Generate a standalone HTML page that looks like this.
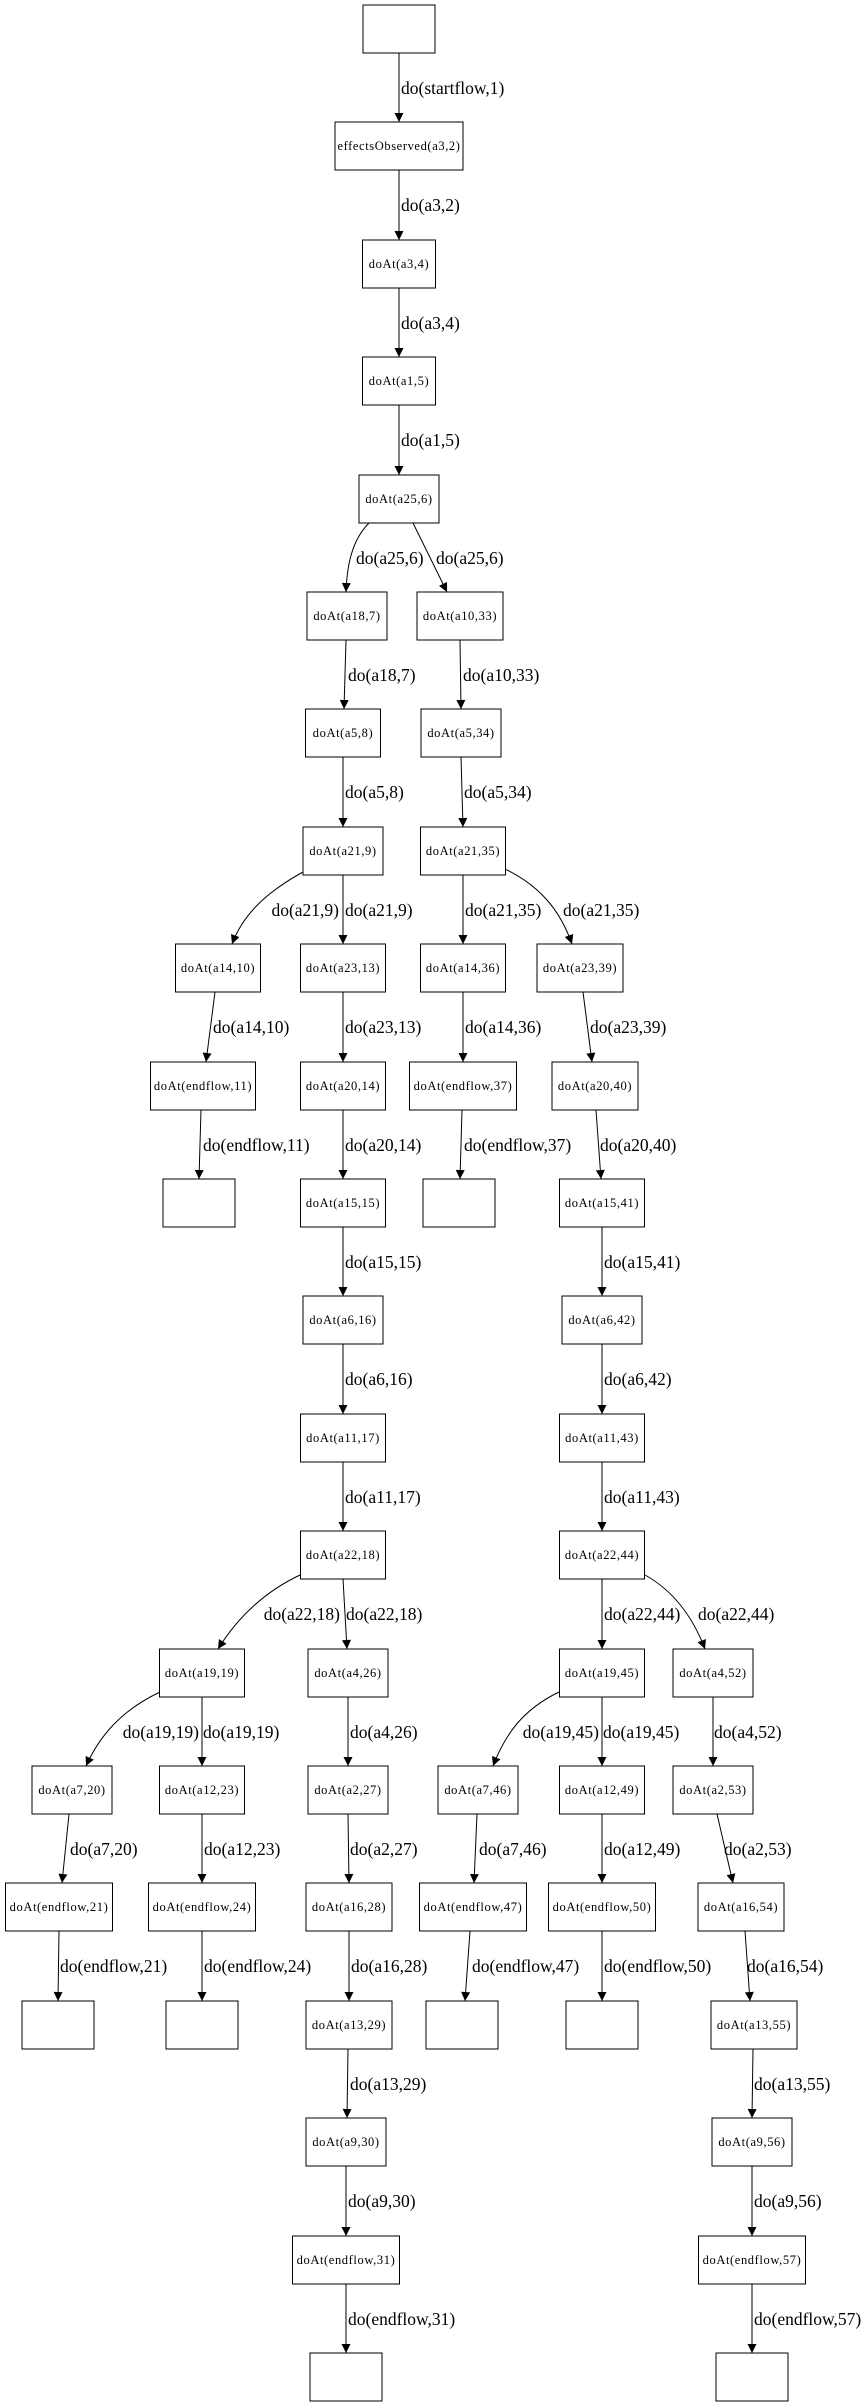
<!DOCTYPE html>
<html><head><meta charset="utf-8"><style>
html,body{margin:0;padding:0;background:#fff;}
svg{display:block}
.n{fill:#fff;stroke:#000;stroke-width:1}
.t{font-family:"Liberation Serif",serif;font-size:12.5px;letter-spacing:0.6px;text-anchor:middle}
.l{font-family:"Liberation Serif",serif;font-size:17.5px}
.e{fill:none;stroke:#000;stroke-width:1;marker-end:url(#a)}
</style></head><body>
<svg width="862" height="2405" viewBox="0 0 862 2405" xmlns="http://www.w3.org/2000/svg">
<defs><marker id="a" markerUnits="userSpaceOnUse" viewBox="0 0 10 10" refX="10" refY="5" markerWidth="12" markerHeight="9" orient="auto"><path d="M0,0 L10,5 L0,10 z" fill="#000"/></marker></defs>

<rect class="n" x="363" y="5" width="72" height="48"/>
<rect class="n" x="335" y="122" width="128" height="48"/><text class="t" x="399" y="150">effectsObserved(a3,2)</text>
<rect class="n" x="362.5" y="240" width="73" height="48"/><text class="t" x="399" y="268">doAt(a3,4)</text>
<rect class="n" x="362.5" y="357" width="73" height="48"/><text class="t" x="399" y="385">doAt(a1,5)</text>
<rect class="n" x="359" y="475" width="80" height="48"/><text class="t" x="399" y="503">doAt(a25,6)</text>
<rect class="n" x="307" y="592" width="80" height="48"/><text class="t" x="347" y="620">doAt(a18,7)</text>
<rect class="n" x="417" y="592" width="86" height="48"/><text class="t" x="460" y="620">doAt(a10,33)</text>
<rect class="n" x="305.5" y="709" width="75" height="48"/><text class="t" x="343" y="737">doAt(a5,8)</text>
<rect class="n" x="421" y="709" width="80" height="48"/><text class="t" x="461" y="737">doAt(a5,34)</text>
<rect class="n" x="303" y="827" width="80" height="48"/><text class="t" x="343" y="855">doAt(a21,9)</text>
<rect class="n" x="420.5" y="827" width="85" height="48"/><text class="t" x="463" y="855">doAt(a21,35)</text>
<rect class="n" x="175.5" y="944" width="85" height="48"/><text class="t" x="218" y="972">doAt(a14,10)</text>
<rect class="n" x="300.5" y="944" width="85" height="48"/><text class="t" x="343" y="972">doAt(a23,13)</text>
<rect class="n" x="420.5" y="944" width="85" height="48"/><text class="t" x="463" y="972">doAt(a14,36)</text>
<rect class="n" x="537" y="944" width="86" height="48"/><text class="t" x="580" y="972">doAt(a23,39)</text>
<rect class="n" x="150.5" y="1062" width="105" height="48"/><text class="t" x="203" y="1090">doAt(endflow,11)</text>
<rect class="n" x="300.5" y="1062" width="85" height="48"/><text class="t" x="343" y="1090">doAt(a20,14)</text>
<rect class="n" x="409.5" y="1062" width="107" height="48"/><text class="t" x="463" y="1090">doAt(endflow,37)</text>
<rect class="n" x="552" y="1062" width="86" height="48"/><text class="t" x="595" y="1090">doAt(a20,40)</text>
<rect class="n" x="163" y="1179" width="72" height="48"/>
<rect class="n" x="300.5" y="1179" width="85" height="48"/><text class="t" x="343" y="1207">doAt(a15,15)</text>
<rect class="n" x="423" y="1179" width="72" height="48"/>
<rect class="n" x="559.5" y="1179" width="85" height="48"/><text class="t" x="602" y="1207">doAt(a15,41)</text>
<rect class="n" x="303" y="1296" width="80" height="48"/><text class="t" x="343" y="1324">doAt(a6,16)</text>
<rect class="n" x="562" y="1296" width="80" height="48"/><text class="t" x="602" y="1324">doAt(a6,42)</text>
<rect class="n" x="300.5" y="1414" width="85" height="48"/><text class="t" x="343" y="1442">doAt(a11,17)</text>
<rect class="n" x="559.5" y="1414" width="85" height="48"/><text class="t" x="602" y="1442">doAt(a11,43)</text>
<rect class="n" x="300.5" y="1531" width="85" height="48"/><text class="t" x="343" y="1559">doAt(a22,18)</text>
<rect class="n" x="559.5" y="1531" width="85" height="48"/><text class="t" x="602" y="1559">doAt(a22,44)</text>
<rect class="n" x="159.5" y="1649" width="85" height="48"/><text class="t" x="202" y="1677">doAt(a19,19)</text>
<rect class="n" x="308" y="1649" width="80" height="48"/><text class="t" x="348" y="1677">doAt(a4,26)</text>
<rect class="n" x="559.5" y="1649" width="85" height="48"/><text class="t" x="602" y="1677">doAt(a19,45)</text>
<rect class="n" x="673" y="1649" width="80" height="48"/><text class="t" x="713" y="1677">doAt(a4,52)</text>
<rect class="n" x="32" y="1766" width="80" height="48"/><text class="t" x="72" y="1794">doAt(a7,20)</text>
<rect class="n" x="159.5" y="1766" width="85" height="48"/><text class="t" x="202" y="1794">doAt(a12,23)</text>
<rect class="n" x="308" y="1766" width="80" height="48"/><text class="t" x="348" y="1794">doAt(a2,27)</text>
<rect class="n" x="438" y="1766" width="80" height="48"/><text class="t" x="478" y="1794">doAt(a7,46)</text>
<rect class="n" x="559.5" y="1766" width="85" height="48"/><text class="t" x="602" y="1794">doAt(a12,49)</text>
<rect class="n" x="673" y="1766" width="80" height="48"/><text class="t" x="713" y="1794">doAt(a2,53)</text>
<rect class="n" x="5.5" y="1883" width="107" height="48"/><text class="t" x="59" y="1911">doAt(endflow,21)</text>
<rect class="n" x="148.5" y="1883" width="107" height="48"/><text class="t" x="202" y="1911">doAt(endflow,24)</text>
<rect class="n" x="306" y="1883" width="86" height="48"/><text class="t" x="349" y="1911">doAt(a16,28)</text>
<rect class="n" x="419.5" y="1883" width="107" height="48"/><text class="t" x="473" y="1911">doAt(endflow,47)</text>
<rect class="n" x="548.5" y="1883" width="107" height="48"/><text class="t" x="602" y="1911">doAt(endflow,50)</text>
<rect class="n" x="698" y="1883" width="86" height="48"/><text class="t" x="741" y="1911">doAt(a16,54)</text>
<rect class="n" x="22" y="2001" width="72" height="48"/>
<rect class="n" x="166" y="2001" width="72" height="48"/>
<rect class="n" x="306" y="2001" width="86" height="48"/><text class="t" x="349" y="2029">doAt(a13,29)</text>
<rect class="n" x="426" y="2001" width="72" height="48"/>
<rect class="n" x="566" y="2001" width="72" height="48"/>
<rect class="n" x="711" y="2001" width="86" height="48"/><text class="t" x="754" y="2029">doAt(a13,55)</text>
<rect class="n" x="306" y="2118" width="80" height="48"/><text class="t" x="346" y="2146">doAt(a9,30)</text>
<rect class="n" x="712" y="2118" width="80" height="48"/><text class="t" x="752" y="2146">doAt(a9,56)</text>
<rect class="n" x="292.5" y="2236" width="107" height="48"/><text class="t" x="346" y="2264">doAt(endflow,31)</text>
<rect class="n" x="698.5" y="2236" width="107" height="48"/><text class="t" x="752" y="2264">doAt(endflow,57)</text>
<rect class="n" x="310" y="2353" width="72" height="48"/>
<rect class="n" x="716" y="2353" width="72" height="48"/>

<path class="e" d="M399,53 L399,122"/><text class="l" x="401" y="94">do(startflow,1)</text>
<path class="e" d="M399,170 L399,240"/><text class="l" x="401" y="211">do(a3,2)</text>
<path class="e" d="M399,288 L399,357"/><text class="l" x="401" y="329">do(a3,4)</text>
<path class="e" d="M399,405 L399,475"/><text class="l" x="401" y="446">do(a1,5)</text>
<path class="e" d="M369,523 C352,540 347,565 346,592"/><text class="l" x="356" y="564">do(a25,6)</text>
<path class="e" d="M413,523 L447,592"/><text class="l" x="436" y="564">do(a25,6)</text>
<path class="e" d="M346,640 L344,709"/><text class="l" x="348" y="681">do(a18,7)</text>
<path class="e" d="M460,640 L461,709"/><text class="l" x="463" y="681">do(a10,33)</text>
<path class="e" d="M343,757 L343,827"/><text class="l" x="345" y="798">do(a5,8)</text>
<path class="e" d="M461,757 L463,827"/><text class="l" x="464" y="798">do(a5,34)</text>
<path class="e" d="M303,872 C265,893 243,915 232,944"/><text class="l" x="339" y="916" text-anchor="end">do(a21,9)</text>
<path class="e" d="M343,875 L343,944"/><text class="l" x="345" y="916">do(a21,9)</text>
<path class="e" d="M463,875 L463,944"/><text class="l" x="465" y="916">do(a21,35)</text>
<path class="e" d="M505,869 C540,886 560,910 572,944"/><text class="l" x="563" y="916">do(a21,35)</text>
<path class="e" d="M215,992 L206,1062"/><text class="l" x="213" y="1033">do(a14,10)</text>
<path class="e" d="M343,992 L343,1062"/><text class="l" x="345" y="1033">do(a23,13)</text>
<path class="e" d="M463,992 L463,1062"/><text class="l" x="465" y="1033">do(a14,36)</text>
<path class="e" d="M583,992 L592,1062"/><text class="l" x="590" y="1033">do(a23,39)</text>
<path class="e" d="M201,1110 L199,1179"/><text class="l" x="203" y="1151">do(endflow,11)</text>
<path class="e" d="M343,1110 L343,1179"/><text class="l" x="345" y="1151">do(a20,14)</text>
<path class="e" d="M462,1110 L460,1179"/><text class="l" x="464" y="1151">do(endflow,37)</text>
<path class="e" d="M596,1110 L601,1179"/><text class="l" x="600" y="1151">do(a20,40)</text>
<path class="e" d="M343,1227 L343,1296"/><text class="l" x="345" y="1268">do(a15,15)</text>
<path class="e" d="M602,1227 L602,1296"/><text class="l" x="604" y="1268">do(a15,41)</text>
<path class="e" d="M343,1344 L343,1414"/><text class="l" x="345" y="1385">do(a6,16)</text>
<path class="e" d="M602,1344 L602,1414"/><text class="l" x="604" y="1385">do(a6,42)</text>
<path class="e" d="M343,1462 L343,1531"/><text class="l" x="345" y="1503">do(a11,17)</text>
<path class="e" d="M602,1462 L602,1531"/><text class="l" x="604" y="1503">do(a11,43)</text>
<path class="e" d="M300,1575 C262,1593 236,1620 218,1649"/><text class="l" x="340" y="1620" text-anchor="end">do(a22,18)</text>
<path class="e" d="M343,1579 L347,1649"/><text class="l" x="346" y="1620">do(a22,18)</text>
<path class="e" d="M602,1579 L602,1649"/><text class="l" x="604" y="1620">do(a22,44)</text>
<path class="e" d="M645,1575 C672,1590 692,1615 705,1649"/><text class="l" x="698" y="1620">do(a22,44)</text>
<path class="e" d="M160,1692 C122,1710 100,1735 86,1766"/><text class="l" x="199" y="1738" text-anchor="end">do(a19,19)</text>
<path class="e" d="M202,1697 L202,1766"/><text class="l" x="203" y="1738">do(a19,19)</text>
<path class="e" d="M348,1697 L348,1766"/><text class="l" x="350" y="1738">do(a4,26)</text>
<path class="e" d="M559,1692 C522,1710 505,1735 493,1766"/><text class="l" x="599" y="1738" text-anchor="end">do(a19,45)</text>
<path class="e" d="M602,1697 L602,1766"/><text class="l" x="603" y="1738">do(a19,45)</text>
<path class="e" d="M713,1697 L713,1766"/><text class="l" x="714" y="1738">do(a4,52)</text>
<path class="e" d="M69,1814 L62,1883"/><text class="l" x="70" y="1855">do(a7,20)</text>
<path class="e" d="M202,1814 L202,1883"/><text class="l" x="204" y="1855">do(a12,23)</text>
<path class="e" d="M348,1814 L349,1883"/><text class="l" x="350" y="1855">do(a2,27)</text>
<path class="e" d="M477,1814 L474,1883"/><text class="l" x="479" y="1855">do(a7,46)</text>
<path class="e" d="M602,1814 L602,1883"/><text class="l" x="604" y="1855">do(a12,49)</text>
<path class="e" d="M717,1814 L733,1883"/><text class="l" x="724" y="1855">do(a2,53)</text>
<path class="e" d="M59,1931 L58,2001"/><text class="l" x="60" y="1972">do(endflow,21)</text>
<path class="e" d="M202,1931 L202,2001"/><text class="l" x="204" y="1972">do(endflow,24)</text>
<path class="e" d="M349,1931 L349,2001"/><text class="l" x="351" y="1972">do(a16,28)</text>
<path class="e" d="M470,1931 L465,2001"/><text class="l" x="472" y="1972">do(endflow,47)</text>
<path class="e" d="M602,1931 L602,2001"/><text class="l" x="604" y="1972">do(endflow,50)</text>
<path class="e" d="M745,1931 L750,2001"/><text class="l" x="747" y="1972">do(a16,54)</text>
<path class="e" d="M348,2049 L347,2118"/><text class="l" x="350" y="2090">do(a13,29)</text>
<path class="e" d="M753,2049 L752,2118"/><text class="l" x="754" y="2090">do(a13,55)</text>
<path class="e" d="M346,2166 L346,2236"/><text class="l" x="348" y="2207">do(a9,30)</text>
<path class="e" d="M752,2166 L752,2236"/><text class="l" x="754" y="2207">do(a9,56)</text>
<path class="e" d="M346,2284 L346,2353"/><text class="l" x="348" y="2325">do(endflow,31)</text>
<path class="e" d="M752,2284 L752,2353"/><text class="l" x="754" y="2325">do(endflow,57)</text>
</svg>
</body></html>
